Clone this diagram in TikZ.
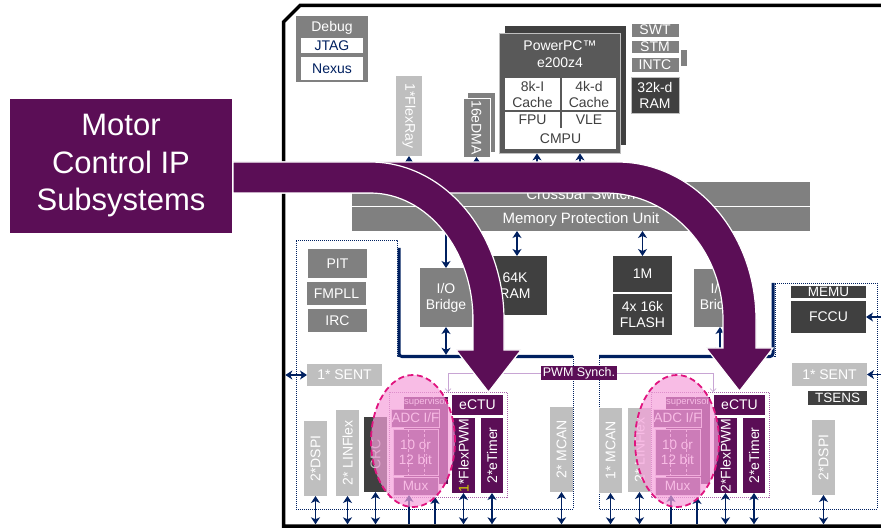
\documentclass[tikz,border=0pt]{standalone}
\usepackage{fontspec}
\setmainfont{Liberation Sans}
\usetikzlibrary{arrows.meta}
\definecolor{mpurple}{RGB}{91,14,86}
\definecolor{navy}{RGB}{0,32,96}
\definecolor{gdark}{RGB}{64,64,64}
\definecolor{gmid}{RGB}{128,128,128}
\definecolor{glight}{RGB}{191,191,191}
\definecolor{ppcgray}{RGB}{89,89,89}
\definecolor{pinkfill}{RGB}{245,160,218}
\definecolor{pinkline}{RGB}{224,20,127}
\definecolor{syncline}{RGB}{200,165,212}
\definecolor{adcdot}{RGB}{170,100,170}
\definecolor{adcfill}{RGB}{110,40,105}
\definecolor{adcedge}{RGB}{235,205,230}
\definecolor{yel}{RGB}{215,215,0}
\tikzset{
  blk/.style={inner sep=0pt, outer sep=0pt, text=white, align=center, font=\fontsize{14}{16}\selectfont},
  gdk/.style={blk, fill=gdark},
  gmd/.style={blk, fill=gmid},
  glt/.style={blk, fill=glight},
  pur/.style={blk, fill=mpurple},
  wht/.style={blk, fill=white, text=gdark},
  adcb/.style={blk, fill=adcfill, draw=adcedge, line width=0.8pt, font=\fontsize{13.5}{15}\selectfont},
  lbl/.style={inner sep=0pt, text=white, font=\fontsize{14}{16}\selectfont, align=center},
  vlbl/.style={lbl, rotate=90},
  rlbl/.style={lbl, rotate=-90},
  tip/.style={Stealth[length=7pt,width=9pt,inset=2pt]},
  dbl/.style={draw=navy, line width=1.5pt, {Stealth[length=7pt,width=9pt,inset=2pt]}-{Stealth[length=7pt,width=9pt,inset=2pt]}},
  sgl/.style={draw=navy, line width=1.5pt, -{Stealth[length=7pt,width=9pt,inset=2pt]}},
  dots/.style={draw=navy, line width=0.8pt, dash pattern=on 1pt off 1pt},
  adcdots/.style={draw=adcdot, line width=0.8pt, dash pattern=on 1pt off 1pt},
  bus/.style={draw=navy, line width=3pt, rounded corners=3pt},
  band/.style={fill=mpurple, draw=white, line width=1.2pt, line join=miter},
  syncl/.style={draw=syncline, line width=0.7pt, -{Straight Barb[length=3pt,width=6pt]}},
}
\newcommand\bx[7][]{\node[#1, minimum width={(#5-#3)*1pt}, minimum height={(#6-#4)*1pt}] (#2) at ({(#3+#5)/2},{(#4+#6)/2}) {#7};}
\newcommand\adcgroup[3]{%
\begin{scope}[xshift=#2pt]
  \draw[adcdots] (389,392) rectangle (507,497);
  \fill[mpurple] (404,397) rectangle (448,484);
  \bx[pur, font=\fontsize{9.5}{10}\selectfont]{#1sup}{404}{397}{448}{407}{supervisor}
  \bx[adcb]{#1adcif}{393}{409}{438}{427}{ADC I/F}
  \bx[adcb]{#1bits}{393}{429}{438}{475}{10 or\\12 bit}
  \draw[adcedge, dash pattern=on 3pt off 2pt, line width=0.6pt] (408,429) -- (408,475) (424,429) -- (424,475);
  \bx[adcb]{#1mux}{393}{477}{438}{495}{Mux}
  \bx[pur]{#1ectu}{452}{395}{503}{415}{eCTU}
  \bx[pur]{#1pwm}{452}{418}{475}{493}{}
  \node[vlbl] at (#1pwm) {#3};
  \bx[pur]{#1etim}{481}{418}{503}{493}{}
  \node[vlbl] at (#1etim) {2*eTimer};
  \draw[dbl] (#1pwm.south) -- (#1pwm.south |- bot);
  \draw[dbl] (#1etim.south) -- (#1etim.south |- bot);
  \coordinate (#1m1) at (409,524);
  \coordinate (#1m2) at (435,524);
  \draw[sgl] (#1m1) -- (#1m1 |- #1mux.south);
  \draw[sgl] (#1m2) -- ([yshift=-2pt]#1m2 |- #1mux.south);
\end{scope}}
\begin{document}
\begin{tikzpicture}[x=1pt,y=-1pt]
\useasboundingbox (0,0) rectangle (881,529);
\clip (0,0) rectangle (881,529);
\coordinate (bot) at (0,524.3);
% chip outline
\draw[line width=3.5pt, line join=miter] (885,5.5) -- (300,5.5) -- (283.5,22) -- (283.5,526) -- (885,526);
% peripheral regions
\draw[dots] (296,240) -- (397,240) -- (397,356) -- (573,356) -- (573,509) -- (296,509) -- cycle;
\draw[dots] (775,283) -- (877,283) -- (877,509) -- (599,509) -- (599,356) -- (775,356) -- cycle;
\draw[bus] (399,248) -- (399,356.5) -- (573,356.5);
\draw[bus] (599,356.5) -- (773,356.5) -- (773,283);
% debug
\bx[gmd]{debug}{296}{16}{368}{82}{}
\node[lbl] (debugt) at (332,27.5) {Debug};
\bx[wht, text=navy]{jtag}{301}{38}{363}{53}{JTAG}
\bx[wht, text=navy]{nexus}{301}{57}{363}{80}{Nexus}
% masters
\bx[glt]{flexray}{396}{76}{422}{156}{}
\node[rlbl] at (flexray) {1*FlexRay};
\bx[gmd]{dmab}{468}{93}{495}{152}{}
\bx[gmd, draw=white, line width=0.8pt]{dma}{463}{98}{490}{157}{}
\node[rlbl] at (dma) {16eDMA};
\bx[gdk]{ppcb}{505}{26}{626}{145}{}
\bx[fill=ppcgray, draw=glight, line width=0.8pt]{ppc}{499}{33}{620}{153}{}
\node[lbl] (ppct) at (560,45.5) {PowerPC™};
\node[lbl] (ppct2) at (560,63) {e200z4};
\bx[wht]{c8k}{505}{78}{560}{110}{8k-I\\Cache}
\bx[wht]{c4k}{562}{78}{616}{110}{4k-d\\Cache}
\bx[wht]{fpu}{505}{112}{560}{128}{FPU}
\bx[wht]{vle}{562}{112}{616}{128}{VLE}
\bx[wht]{cmpu}{505}{128}{616}{149}{CMPU}
\bx[gmd, draw=white, line width=0.6pt]{swt}{631}{23}{679}{37}{SWT}
\bx[gmd, draw=white, line width=0.6pt]{stm}{631}{40}{679}{53}{STM}
\bx[gmd, draw=white, line width=0.6pt]{intc}{631}{57}{679}{72}{INTC}
\bx[gmd]{tab}{681}{50}{687}{66}{}
\bx[gdk, draw=glight, line width=0.6pt]{ram32}{631}{77}{679}{113}{32k-d\\RAM}
% crossbar
\bx[gmd, font=\fontsize{15}{17}\selectfont]{xbar}{352}{182}{810}{206}{Crossbar Switch}
\bx[gmd, font=\fontsize{15}{17}\selectfont]{mpu}{352}{207.5}{810}{231}{Memory Protection Unit}
\path (537,0) coordinate (cx1) (580,0) coordinate (cx2) (517,0) coordinate (cx3);
\draw[dbl] (flexray.south) -- (flexray.south |- xbar.north);
\draw[dbl] (dma.south) -- (dma.south |- xbar.north);
\draw[dbl] (ppc.south -| cx1) -- (cx1 |- xbar.north);
\draw[dbl] (ppc.south -| cx2) -- (cx2 |- xbar.north);
% slaves
\bx[gmd]{pit}{308}{249}{367}{278}{PIT}
\bx[gmd]{fmpll}{307}{282}{366}{305}{FMPLL}
\bx[gmd]{irc}{308}{309}{367}{332}{IRC}
\bx[gmd]{iob1}{420}{268}{472}{327}{I/O\\Bridge}
\bx[gmd]{iob2}{694}{269}{746}{327}{I/O\\Bridge}
\bx[gdk]{ram64}{483}{256}{547}{315}{64K\\RAM}
\bx[gdk]{flash1}{613}{256}{672}{292}{1M}
\bx[gdk]{flash2}{613}{294}{672}{335}{4x 16k\\FLASH}
\draw[sgl] (mpu.south -| iob1.north) -- (iob1.north);
\draw[dbl] (mpu.south -| cx3) -- (ram64.north -| cx3);
\draw[dbl] (mpu.south -| flash1.north) -- (flash1.north);
\draw[sgl] (mpu.south -| iob2.north) -- (iob2.north);
\coordinate (busy) at (0,354.8);
\draw[dbl] (iob1.south) -- (iob1.south |- busy);
\draw[dbl] (iob2.south) -- (iob2.south |- busy);
% right region
\bx[gdk, font=\fontsize{13.5}{15}\selectfont]{memu}{791}{286}{866}{298}{MEMU}
\bx[gdk]{fccu}{791}{301}{866}{333}{FCCU}
\bx[glt]{sentr}{792}{363}{867}{386}{1* SENT}
\bx[gdk, font=\fontsize{13.5}{15}\selectfont]{tsens}{808}{391}{867}{405}{TSENS}
\bx[glt]{dspir}{812}{420}{835}{495}{}
\node[vlbl] at (dspir) {2*DSPI};
\coordinate (rb1) at (892,317);
\coordinate (rb2) at (892,374.5);
\draw[dbl] (rb1) -- (fccu.east);
\draw[dbl] (rb2) -- (sentr.east);
% left region
\bx[glt]{sentl}{307}{364}{382}{386}{1* SENT}
\coordinate (lb) at (285.3,375);
\draw[dbl] (lb) -- (sentl.west);
\bx[glt]{dspil}{304}{421}{327}{496}{}
\node[vlbl] at (dspil) {2*DSPI};
\bx[glt]{linfl}{336}{410}{359}{496}{}
\node[vlbl] at (linfl) {2* LINFlex};
\bx[gdk]{crc}{364}{417}{387}{492}{}
\node[vlbl, text=glight] at (crc) {CRC};
\bx[glt]{mcanl}{550}{407}{573}{492}{}
\node[vlbl] at (mcanl) {2* MCAN};
\bx[glt]{mcanr}{599}{408}{622}{493}{}
\node[vlbl] at (mcanr) {1* MCAN};
\bx[glt]{linfr}{628}{408}{651}{492}{}
\node[vlbl] at (linfr) {2* LINFlex};
\foreach \n in {dspil,linfl,crc,mcanl,mcanr,linfr,dspir}
  \draw[dbl] (\n.south) -- (\n.south |- bot);
% ADC subsystems
\adcgroup{a}{0}{\textcolor{yel}{1}*FlexPWM}
\adcgroup{b}{262}{2*FlexPWM}
% overlay ellipses
\fill[pinkfill, opacity=0.7] (413,441) ellipse [x radius=42pt, y radius=66pt];
\draw[pinkline, line width=1.8pt, dash pattern=on 6pt off 3.5pt] (413,441) ellipse [x radius=42pt, y radius=66pt];
\fill[pinkfill, opacity=0.7] (677,441) ellipse [x radius=42pt, y radius=66pt];
\draw[pinkline, line width=1.8pt, dash pattern=on 6pt off 3.5pt] (677,441) ellipse [x radius=42pt, y radius=66pt];
% PWM synch
\bx[pur, font=\fontsize{12.5}{14}\selectfont]{pwms}{541}{366}{617}{380}{PWM Synch.}
\coordinate (s1) at (448,392);
\coordinate (s2) at (713,392);
\draw[syncl] (pwms.west) -| (s1);
\draw[syncl] (pwms.east) -| (s2);
% big arrows
\path[band] (233,162) -- (617,162) .. controls (693.8,162) and (756,232.7) .. (756,320) -- (756,348) -- (773,348) -- (739.5,391) -- (706,348) -- (723,348) -- (723,320) .. controls (723,249.9) and (670.2,193) .. (605,193) -- (233,193) -- cycle;
\path[band] (233,162) -- (370,162) .. controls (444,162) and (504,232.7) .. (504,320) -- (504,350) -- (521,350) -- (488.5,392) -- (456,350) -- (473,350) -- (473,320) .. controls (473,249.9) and (426.9,193) .. (370,193) -- (233,193) -- cycle;
\bx[pur, font=\fontsize{31}{37.5}\selectfont]{motor}{10}{99}{232}{233}{Motor\\Control IP\\Subsystems}
\end{tikzpicture}
\end{document}
